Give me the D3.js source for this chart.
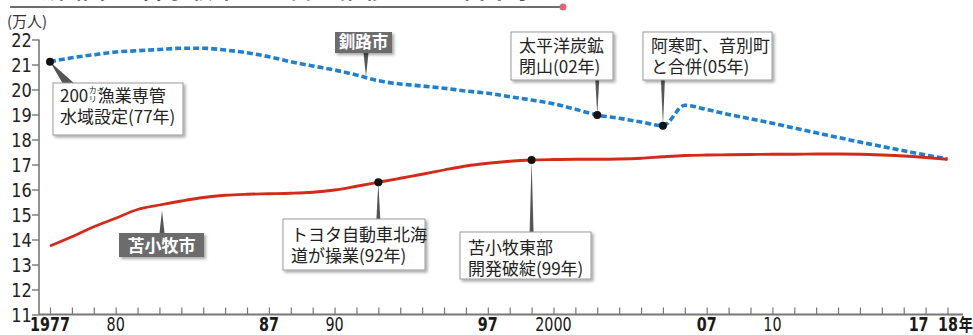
<!DOCTYPE html>
<html><head><meta charset="utf-8">
<script src="https://cdn.jsdelivr.net/npm/d3@7"></script>
<style>
html,body{margin:0;padding:0;background:#fff;}
svg{display:block;}
.num{font-family:"Liberation Sans Narrow","DejaVu Sans Condensed","Liberation Sans",sans-serif;}
.jp{font-family:"Noto Sans CJK JP","Noto Sans",sans-serif;}
</style></head>
<body>
<script>
// ---- data ----
const years = [1977,1978,1979,1980,1981,1982,1983,1984,1985,1986,1987,1988,1989,1990,1991,1992,1993,1994,1995,1996,1997,1998,1999,2000,2001,2002,2003,2004,2005,2006,2007,2008,2009,2010,2011,2012,2013,2014,2015,2016,2017,2018];
const kushiro = [21.11,21.27,21.39,21.50,21.55,21.60,21.65,21.65,21.58,21.47,21.31,21.11,20.94,20.78,20.58,20.35,20.22,20.14,20.05,19.94,19.85,19.71,19.58,19.43,19.21,18.98,18.85,18.70,18.55,19.37,19.20,19.00,18.83,18.65,18.46,18.27,18.08,17.90,17.72,17.55,17.38,17.22];
const tomakomai = [13.74,14.11,14.51,14.85,15.20,15.38,15.54,15.68,15.77,15.81,15.83,15.85,15.89,15.98,16.13,16.29,16.45,16.61,16.78,16.94,17.05,17.13,17.18,17.20,17.21,17.21,17.22,17.25,17.31,17.36,17.38,17.39,17.40,17.41,17.41,17.42,17.42,17.41,17.38,17.34,17.28,17.21];
const yTicks = [11,12,13,14,15,16,17,18,19,20,21,22];
const xLabels = [
  {year:1977, text:"1977", bold:true},
  {year:1980, text:"80", bold:false},
  {year:1987, text:"87", bold:true},
  {year:1990, text:"90", bold:false},
  {year:1997, text:"97", bold:true},
  {year:2000, text:"2000", bold:false},
  {year:2007, text:"07", bold:true},
  {year:2010, text:"10", bold:false},
  {year:2017, text:"17", bold:true},
  {year:2018, text:"18年", bold:true}
];
const unitLabel = "(万人)";
const titleText = "釧路市と苫小牧市の人口の推移と主な出来事";
const seriesNames = ["釧路市","苫小牧市"];
const events = [
  {year:1977, series:"kushiro", lines:["200","カイ","リ","漁業専管","水域設定(77年)"]},
  {year:1992, series:"tomakomai", lines:["トヨタ自動車北海","道が操業(92年)"]},
  {year:1999, series:"tomakomai", lines:["苫小牧東部","開発破綻(99年)"]},
  {year:2002, series:"kushiro", lines:["太平洋炭鉱","閉山(02年)"]},
  {year:2005, series:"kushiro", lines:["阿寒町、音別町","と合併(05年)"]}
];

// ---- layout ----
const W = 973, H = 335;
const svg = d3.select("body").append("svg").attr("width", W).attr("height", H);
const defs = svg.append("defs");
const f = defs.append("filter").attr("id","sh").attr("x","-10%").attr("y","-10%").attr("width","130%").attr("height","140%");
f.append("feDropShadow").attr("dx",2).attr("dy",2).attr("stdDeviation",1.6).attr("flood-color","#000").attr("flood-opacity",0.35);

const x = d3.scaleLinear().domain([1977, 2018]).range([50, 947.5]);
const y = d3.scaleLinear().domain([11, 22]).range([314.5, 39.5]);

const dataK = years.map((yr,i)=>({year:yr, v:kushiro[i]}));
const dataT = years.map((yr,i)=>({year:yr, v:tomakomai[i]}));
const valAt = (arr, yr) => {
  const i = d3.bisector(d=>d.year).left(arr, yr);
  if (i <= 0) return arr[0].v;
  if (i >= arr.length) return arr[arr.length-1].v;
  const a = arr[i-1], b = arr[i];
  return a.v + (b.v - a.v) * (yr - a.year) / (b.year - a.year);
};

// title (cut off at top edge, as in the reference)
svg.append("text").attr("class","jp").attr("x",42).attr("y",-2)
  .attr("font-size",22).attr("font-weight","bold").attr("fill","#555")
  .attr("textLength",493).attr("lengthAdjust","spacing").text(titleText);
svg.append("line").attr("x1",10).attr("x2",563).attr("y1",7).attr("y2",7)
  .attr("stroke","#6d6d6d").attr("stroke-width",2);
svg.append("circle").attr("cx",563).attr("cy",7).attr("r",3.5).attr("fill","#e0647a");

// unit
svg.append("text").attr("class","jp").attr("x",7).attr("y",27).attr("font-size",15).attr("fill","#333").text(unitLabel);

// y axis
const yAxis = d3.axisLeft(y).tickValues(yTicks).tickSize(7).tickFormat(d=>d);
const gy = svg.append("g").attr("transform","translate(39,0)").call(yAxis);
gy.select(".domain").attr("stroke","#777").attr("stroke-width",1.6).attr("d",`M0,${y(22)}V${y(11)}`);
gy.selectAll(".tick line").attr("stroke","#777").attr("stroke-width",1.4);
gy.selectAll(".tick text").attr("class","num").attr("font-size",20).attr("fill","#222")
  .attr("x",-8).attr("dy","0.36em").style("font-family",null)
  .attr("transform","scale(0.9,1)");

// x axis
const xAxis = d3.axisBottom(x).tickValues(years).tickSize(-7).tickFormat("");
const gx = svg.append("g").attr("transform",`translate(0,${y(11)})`).call(xAxis);
gx.select(".domain").attr("d","M39,0H963").attr("stroke","#777").attr("stroke-width",2);
gx.selectAll(".tick line").attr("stroke","#777").attr("stroke-width",1.2);
gx.selectAll(".tick text").remove();
xLabels.forEach(l=>{
  const isLast = l.text.endsWith("年");
  const isPrev = l.year === 2017;
  const ax = isLast ? x(l.year) - 9.5 : isPrev ? x(l.year) + 3 : x(l.year);
  const gl = svg.append("g").attr("transform",`translate(${ax},331) scale(0.84,1)`);
  const t = gl.append("text").attr("class","num")
    .attr("font-size",19).attr("font-weight",l.bold?"bold":"normal").attr("fill","#1a1a1a");
  if (isLast) {
    t.attr("text-anchor","start");
    t.append("tspan").text(l.text.slice(0,-1));
    t.append("tspan").attr("class","jp").style("font-family",'"Noto Sans CJK JP",sans-serif')
      .attr("font-size",17).attr("dx",1).text("年");
  } else {
    t.attr("text-anchor", isPrev ? "end" : "middle").text(l.text);
  }
});

// lines
const lineGen = d3.line().x(d=>x(d.year)).y(d=>y(d.v)).curve(d3.curveMonotoneX);
svg.append("path").datum(dataK).attr("d",lineGen).attr("fill","none")
  .attr("stroke","#1f7fd0").attr("stroke-width",3.6).attr("stroke-dasharray","6,3");
svg.append("path").datum(dataT).attr("d",lineGen).attr("fill","none")
  .attr("stroke","#d42a1a").attr("stroke-width",2.8);

// pointers & boxes
const g = svg.append("g");
const ptrColor = "#555";
function wedge(tx, ty, bx1, bx2, by){
  g.append("path").attr("d",`M${tx},${ty}L${bx1},${by}L${bx2},${by}Z`).attr("fill",ptrColor);
}
function box(x0,y0,x1,y1){
  g.append("rect").attr("x",x0).attr("y",y0).attr("width",x1-x0).attr("height",y1-y0)
    .attr("fill","#fff").attr("stroke","#9a9a9a").attr("stroke-width",1).attr("filter","url(#sh)");
}
function txt(tx, ty, s, size){
  return g.append("text").attr("class","jp").attr("x",tx).attr("y",ty).attr("font-size",size||17).attr("fill","#222").text(s);
}
const dataOf = s => s==="kushiro" ? dataK : dataT;
const pt = e => ({px:x(e.year), py:y(valAt(dataOf(e.series), e.year))});

// event 0: 1977
{ const e = events[0], p = pt(e);
  wedge(p.px, p.py, 63, 75, 84);
  box(53,83,183,135);
  const t = g.append("text").attr("class","jp").attr("x",60).attr("y",101.5).attr("font-size",17).attr("fill","#222");
  t.append("tspan").text(e.lines[0]);
  t.append("tspan").attr("font-size",8).attr("dy",-8.5).attr("dx",0.5).text(e.lines[1]);
  t.append("tspan").attr("font-size",8).attr("dy",8.5).attr("dx",-16).text(e.lines[2]);
  t.append("tspan").attr("dx",1).text(e.lines[3]);
  txt(60,122.5,e.lines[4]);
}
// event 1: 1992
{ const e = events[1], p = pt(e);
  wedge(p.px, p.py, p.px-2, p.px+2, 220);
  box(283,219,425,270);
  txt(291,240.5,e.lines[0]); txt(291,262,e.lines[1]);
}
// event 2: 1999
{ const e = events[2], p = pt(e);
  wedge(p.px, p.py, p.px-2, p.px+2, 233);
  box(460,232,591,279);
  txt(468,253.5,e.lines[0]); txt(468,274.5,e.lines[1]);
}
// event 3: 2002
{ const e = events[3], p = pt(e);
  wedge(p.px, p.py, p.px-2, p.px+2, 79);
  box(511,32,613,80);
  txt(519,51.5,e.lines[0]); txt(519,73,e.lines[1]);
}
// event 4: 2005
{ const e = events[4], p = pt(e);
  wedge(p.px, p.py, p.px-2, p.px+2, 79);
  box(643,32,772,80);
  txt(651,51.5,e.lines[0]); txt(651,73,e.lines[1]);
}
// dots
events.forEach(e=>{ const p = pt(e);
  g.append("circle").attr("cx",p.px).attr("cy",p.py).attr("r",4).attr("fill","#111"); });

// series labels (dark boxes)
function darkLabel(x0,y0,x1,y1,s,size){
  g.append("rect").attr("x",x0).attr("y",y0).attr("width",x1-x0).attr("height",y1-y0)
    .attr("fill","#6c6c6c").attr("filter","url(#sh)");
  g.append("text").attr("class","jp").attr("x",(x0+x1)/2).attr("y",y1-5).attr("text-anchor","middle")
    .attr("font-size",size).attr("font-weight","bold").attr("fill","#fff").text(s);
}
// 釧路市
{ const cx = 366, vy = y(valAt(dataK, x.invert(cx)));
  wedge(cx, vy-1, cx-2.5, cx+2.5, 53);
  darkLabel(335,32,392,53,seriesNames[0],16.5); }
// 苫小牧市
{ const cx = 162, vy = y(valAt(dataT, x.invert(cx)));
  wedge(cx, vy+6, cx-2.5, cx+2.5, 233);
  darkLabel(119,233,204,257,seriesNames[1],17); }
</script>
</body></html>
